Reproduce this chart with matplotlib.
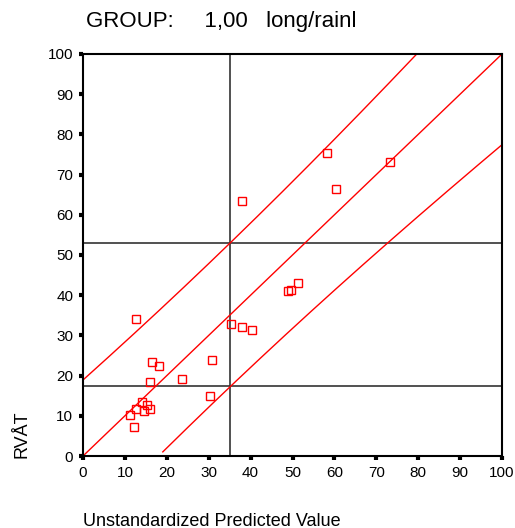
import numpy as np
import matplotlib
matplotlib.use("Agg")
import matplotlib.pyplot as plt

plt.rcParams['font.family'] = ['Liberation Sans', 'DejaVu Sans']

# Observed RVÅT versus unstandardized predicted value (GROUP 1,00 long/rainl)
predicted = [12.6, 16.4, 18.1, 16.1, 23.6, 30.8, 30.4, 35.3, 38.0, 40.3,
             14.2, 15.3, 12.6, 14.6, 16.1, 11.2, 12.2,
             58.2, 73.3, 60.3, 38.0, 51.4, 49.6, 48.9]
observed = [34.2, 23.4, 22.3, 18.5, 19.2, 23.8, 14.9, 32.8, 32.1, 31.3,
            13.4, 12.7, 11.6, 11.3, 11.6, 10.1, 7.3,
            75.4, 73.2, 66.3, 63.5, 43.1, 41.3, 41.0]

# Prediction-interval band around the identity line
PI_MIN_HALF_WIDTH = 17.86   # half width at the centre of the predictors
PI_CENTER = 31.0            # mean predicted value of the fitted model
PI_CURVATURE = 0.04         # t^2 * s^2 / Sxx
X_CUTOFF = 35.2             # cutoff on the predicted value

ticks = [0, 10, 20, 30, 40, 50, 60, 70, 80, 90, 100]

fig = plt.figure(figsize=(5.15, 5.28), dpi=100)
ax = fig.add_axes([83 / 515, 1 - 456 / 528, 419 / 515, 402 / 528])

def half_width(x):
    return np.sqrt(PI_MIN_HALF_WIDTH ** 2 + PI_CURVATURE * (x - PI_CENTER) ** 2)

xs = np.linspace(0, 100, 400)
upper = xs + half_width(xs)
lower = xs - half_width(xs)
keep = lower >= 1.0

ax.plot(xs, xs, color='red', lw=1.0, zorder=2)
ax.plot(xs, upper, color='red', lw=1.0, zorder=2)
ax.plot(xs[keep], lower[keep], color='red', lw=1.0, zorder=2)

hw_cut = half_width(X_CUTOFF)
ref_color = '#333333'
ax.axvline(X_CUTOFF, color=ref_color, lw=1.2, zorder=1)
ax.axhline(X_CUTOFF + hw_cut, color=ref_color, lw=1.2, zorder=1)
ax.axhline(X_CUTOFF - hw_cut, color=ref_color, lw=1.2, zorder=1)

ax.plot(predicted, observed, linestyle='none', marker='s', markersize=5.2,
        markerfacecolor='none', markeredgecolor='red', markeredgewidth=1.0, zorder=3)

ax.set_xlim(0, 100)
ax.set_ylim(0, 100)
ax.set_xticks(ticks)
ax.set_yticks(ticks)
ax.tick_params(direction='out', length=3, width=3, labelsize=11, pad=4, color='black')
for s in ax.spines.values():
    s.set_linewidth(1.5)
    s.set_color('black')

fig.text(86 / 515, 1 - 22 / 528, "GROUP:     1,00   long/rainl", fontsize=16,
         ha='left', va='center')
fig.text(22 / 515, 1 - 434 / 528, "RVÅT", fontsize=13, rotation=90,
         ha='center', va='center')
fig.text(83 / 515, 1 - 521 / 528, "Unstandardized Predicted Value", fontsize=13,
         ha='left', va='center')

fig.savefig("out.png", dpi=100)
